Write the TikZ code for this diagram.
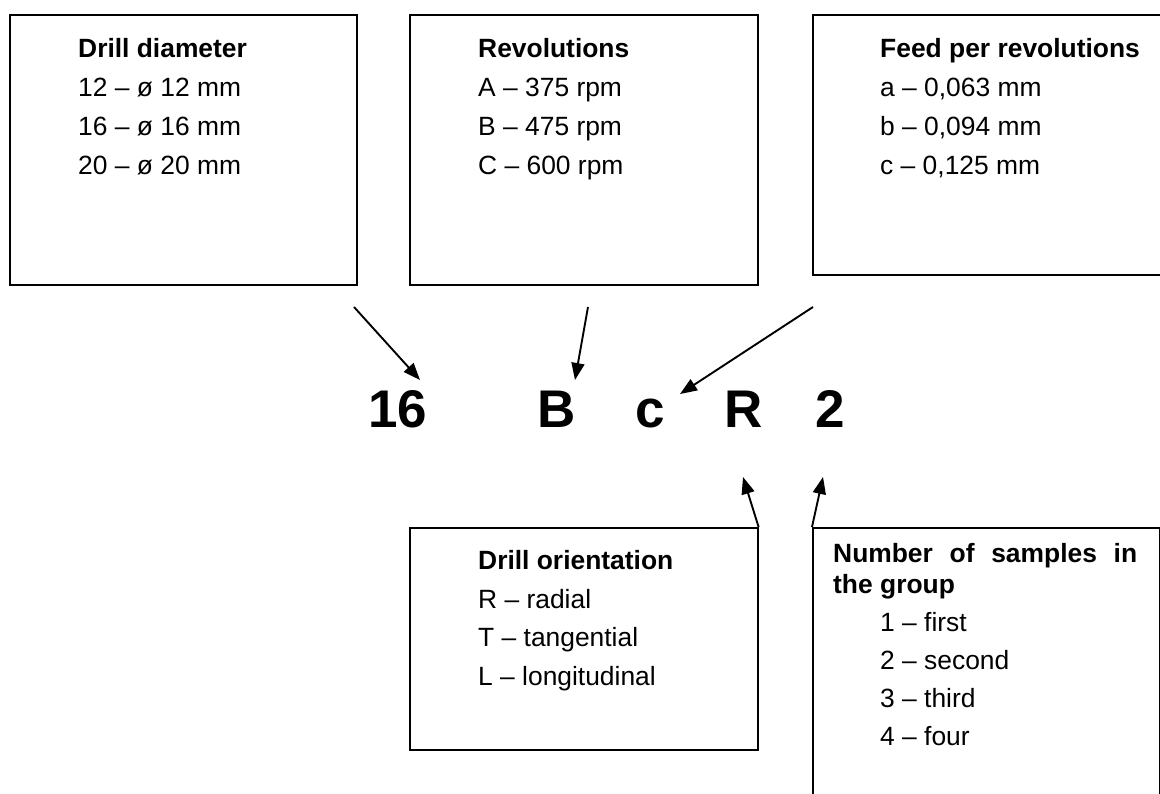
\documentclass[tikz,border=0pt]{standalone}
\usepackage{fontspec}
\setmainfont{Liberation Sans}
\usetikzlibrary{arrows,arrows.meta,positioning}
\tikzset{
  box/.style={draw, line width=1.6pt, anchor=north west, inner sep=0pt},
  txt/.style={anchor=base west, align=left, inner sep=0pt, font=\fontsize{26.4}{39}\selectfont},
  code/.style={anchor=base, inner sep=0pt, font=\fontsize{53}{60}\selectfont\bfseries},
  arr/.style={-{Triangle[length=17pt,width=13pt]}, line width=1.9pt}
}
\begin{document}
\begin{tikzpicture}[x=1pt,y=-1pt]
\useasboundingbox (0,0) rectangle (1160,794);
% the five boxes
\node[box, minimum width=347pt, minimum height=270pt] (diam) at (9,14) {};
\node[box, minimum width=348pt, minimum height=270pt] (rev) at (409,14) {};
\node[box, minimum width=352pt, minimum height=260pt] (feed) at (812,14) {};
\node[box, minimum width=348pt, minimum height=222pt] (orient) at (409,527) {};
\node[box, minimum width=347pt, minimum height=300pt] (group) at (812,527) {};
% their texts (placed at the baseline of the last line)
\node[txt] (diamtxt) at (78,175) {\textbf{Drill diameter}\\12 – ø 12 mm\\16 – ø 16 mm\\20 – ø 20 mm};
\node[txt] (revtxt) at (478,175) {\textbf{Revolutions}\\A – 375 rpm\\B – 475 rpm\\C – 600 rpm};
\node[txt] (feedtxt) at (880,175) {\textbf{Feed per revolutions}\\a – 0,063 mm\\b – 0,094 mm\\c – 0,125 mm};
\node[txt, font=\fontsize{26.4}{38.5}\selectfont] (orienttxt) at (478,685) {\textbf{Drill orientation}\\R – radial\\T – tangential\\L – longitudinal};
\node[txt, font=\fontsize{26.4}{31}\selectfont\bfseries] (grouphead) at (833,593) {\makebox[304pt][s]{Number of samples in}\\the group};
\node[txt, font=\fontsize{26.4}{38}\selectfont] (grouptxt) at (880,745) {1 – first\\2 – second\\3 – third\\4 – four};
% the code
\node[code] (c16) at (398,428) {16};
\node[code] (cB) at (557,428) {B};
\node[code] (cc) at (650,428) {c};
\node[code] (cR) at (744,428) {R};
\node[code] (c2) at (830,428) {2};
% arrow ends
\coordinate (s16) at (354,307);
\coordinate (sB) at (588,307);
\coordinate (sc) at (813,307);
\coordinate (t16) at (420,380);
\coordinate (tB) at (575,380);
\coordinate (tc) at (680,394);
\coordinate (tR) at (743,477);
\coordinate (t2) at (823,477);
\draw[arr] (s16) -- (t16);
\draw[arr] (sB) -- (tB);
\draw[arr] (sc) -- (tc);
\draw[arr] (orient.north east) -- (tR);
\draw[arr] (group.north west) -- (t2);
\end{tikzpicture}
\end{document}
